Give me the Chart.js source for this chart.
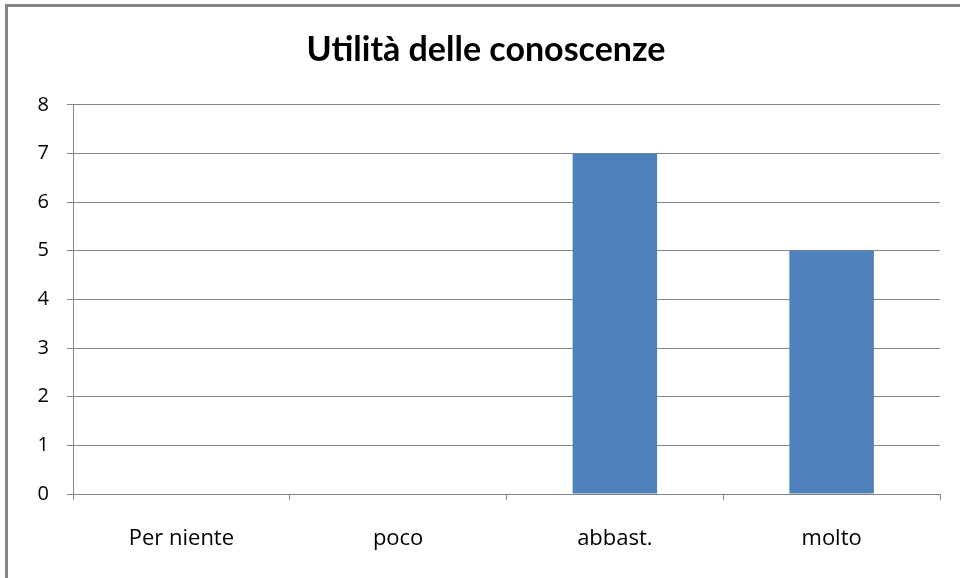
<!DOCTYPE html>
<html>
<head>
<meta charset="utf-8">
<script src="https://cdn.jsdelivr.net/npm/chart.js@4/dist/chart.umd.min.js"></script>
<style>
  body { margin: 0; background: #fff; }
  #wrap { position: relative; width: 960px; height: 578px; overflow: hidden; }
  #frame {
    position: absolute; left: 5px; top: 4px; width: 1000px; height: 600px;
    border-left: 3px solid #868686; border-top: 3px solid #868686;
    pointer-events: none;
  }
</style>
</head>
<body>
<div id="wrap">
  <canvas id="chart" width="960" height="578"></canvas>
  <div id="frame"></div>
</div>
<script>
const categories = ["Per niente", "poco", "abbast.", "molto"];
const values = [0, 0, 7, 5];
const yTicks = [0, 1, 2, 3, 4, 5, 6, 7, 8];

const gridGray = "#868686";
const fontFamily = "'Open Sans', sans-serif";

document.addEventListener("DOMContentLoaded", () => {
  const ctx = document.getElementById("chart").getContext("2d");

  new Chart(ctx, {
    type: "bar",
    data: {
      labels: categories,
      datasets: [
        {
          label: "Utilità",
          data: values,
          backgroundColor: "#4F81BD",
          borderWidth: 0,
          categoryPercentage: 1,
          barPercentage: 0.39,
        },
      ],
    },
    options: {
      responsive: false,
      animation: false,
      // left padding shifts the title centre to match the original
      layout: { padding: { left: 12, right: 0, top: 0, bottom: 0 } },
      plugins: {
        legend: { display: false },
        tooltip: { enabled: false },
        title: {
          display: true,
          text: "Utilità delle conoscenze",
          color: "#000",
          font: { family: "Lato, sans-serif", size: 34, weight: "bold" },
          padding: { top: 30, bottom: 34 },
        },
      },
      scales: {
        x: {
          afterFit: (scale) => { scale.height = 84; },
          grid: {
            offset: true,
            drawOnChartArea: false,
            color: gridGray,
            tickLength: 6,
          },
          border: { color: gridGray, width: 1 },
          ticks: {
            color: "#000",
            padding: 26,
            font: { family: fontFamily, size: 22 },
          },
        },
        y: {
          min: 0,
          max: 8,
          afterFit: (scale) => { scale.width = 61; },
          afterBuildTicks: (scale) => {
            scale.ticks = yTicks.map((v) => ({ value: v }));
          },
          grid: { color: gridGray, tickLength: 6 },
          border: { color: gridGray, width: 1 },
          ticks: {
            color: "#000",
            padding: 18,
            font: { family: fontFamily, size: 20 },
          },
        },
        // empty spacer on the right so the plot ends where the original does
        spacer: {
          type: "linear",
          position: "right",
          afterFit: (scale) => { scale.width = 20; },
          grid: { display: false },
          border: { display: false },
          ticks: { display: false },
        },
      },
    },
  });
});
</script>
</body>
</html>
